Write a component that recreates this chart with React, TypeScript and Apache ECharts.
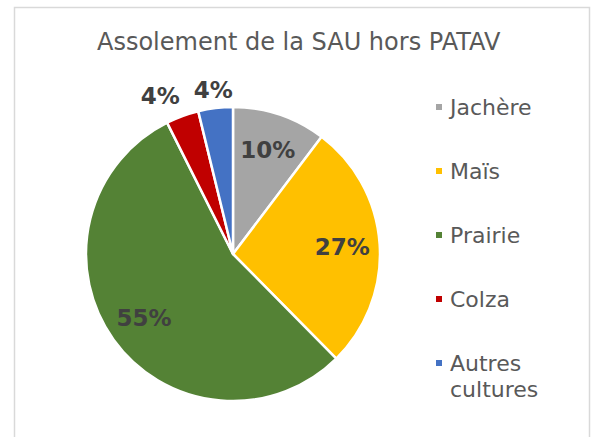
import React, { useEffect, useRef } from "react";
import * as echarts from "echarts";

const categories = ["Jachère", "Maïs", "Prairie", "Colza", "Autres cultures"];
const values = [10.3, 27.3, 55.0, 3.6, 3.8];
const colors = ["#A5A5A5", "#FFC000", "#548235", "#C00000", "#4472C4"];
const titleText = "Assolement de la SAU hors PATAV";

const CX = 233;
const CY = 254;
const R = 147;
const LABEL_FONT = 23;

export default function App() {
  const ref = useRef<HTMLDivElement>(null);
  useEffect(() => {
    if (!ref.current) return;
    const chart = echarts.init(ref.current, null, { renderer: "svg" });
    const total = values.reduce((a, b) => a + b, 0);
    const labelText = values.map((v) => Math.round((v / total) * 100) + "%");
    const widths = labelText.map((t) => (t.length === 2 ? 39 : 55));
    const heights = labelText.map(() => 17);

    const mids: number[] = [];
    let cum = 0;
    values.forEach((v) => {
      mids.push((cum + v / 2) / total);
      cum += v;
    });

    const placed: { x: number; y: number; w: number; h: number }[] = [];
    const labelPos: Record<number, { x: number; y: number }> = {};
    for (let i = values.length - 1; i >= 0; i--) {
      const ang = mids[i] * Math.PI * 2;
      const small = values[i] / total < 0.05;
      let x: number, y: number;
      if (small) {
        const ext =
          (widths[i] / 2) * Math.abs(Math.sin(ang)) + (heights[i] / 2) * Math.abs(Math.cos(ang));
        const r = R + 7 + ext;
        x = CX + r * Math.sin(ang);
        y = CY - r * Math.cos(ang);
        for (const p of placed) {
          const gap = 14;
          const overlapX =
            Math.min(x + widths[i] / 2, p.x + p.w / 2) - Math.max(x - widths[i] / 2, p.x - p.w / 2);
          const overlapY =
            Math.min(y + heights[i] / 2, p.y + p.h / 2) - Math.max(y - heights[i] / 2, p.y - p.h / 2);
          if (overlapX > -gap && overlapY > 0) {
            x -= overlapX + gap;
          }
        }
        placed.push({ x, y, w: widths[i], h: heights[i] });
      } else {
        const r = 0.745 * R;
        x = CX + r * Math.sin(ang);
        y = CY - r * Math.cos(ang);
      }
      labelPos[i] = { x, y };
    }

    const legendText = {
      fontFamily: "DejaVu Sans",
      fontSize: 22,
      color: "#595959",
      lineHeight: 26,
      padding: [0, 0, 0, 2],
    };

    chart.setOption({
      animation: false,
      title: {
        text: titleText,
        left: 97,
        top: 30,
        padding: 0,
        textStyle: {
          fontFamily: "DejaVu Sans",
          fontSize: 24,
          fontWeight: "normal",
          color: "#595959",
        },
      },
      graphic: [
        {
          type: "rect",
          shape: { x: 14.5, y: 7.5, width: 575, height: 440 },
          style: { fill: "none", stroke: "#d9d9d9", lineWidth: 1.5 },
          silent: true,
        },
      ],
      legend: [
        {
          orient: "vertical",
          left: 434,
          top: 94,
          padding: 0,
          itemWidth: 8,
          itemHeight: 8,
          itemGap: 38,
          icon: "rect",
          selectedMode: false,
          data: categories.slice(0, 4),
          textStyle: legendText,
        },
        {
          orient: "vertical",
          left: 434,
          top: 324,
          padding: 0,
          itemWidth: 8,
          itemHeight: 8,
          icon: "rect",
          selectedMode: false,
          data: categories.slice(4),
          formatter: (name: string) => " \n" + name.replace(" ", "\n"),
          textStyle: legendText,
        },
      ],
      series: [
        {
          type: "pie",
          center: [CX, CY],
          radius: [0, R],
          startAngle: 90,
          clockwise: true,
          avoidLabelOverlap: false,
          silent: true,
          itemStyle: { borderColor: "#ffffff", borderWidth: 2.5 },
          label: {
            show: true,
            position: "inside",
            formatter: (p: any) => labelText[p.dataIndex],
            fontFamily: "DejaVu Sans",
            fontWeight: "bold",
            fontSize: LABEL_FONT,
            color: "#404040",
          },
          labelLine: { show: false },
          labelLayout: (params: any) => {
            const p = labelPos[params.dataIndex];
            return { x: p.x, y: p.y, align: "center", verticalAlign: "middle" };
          },
          data: categories.map((name, i) => ({
            name,
            value: values[i],
            itemStyle: { color: colors[i] },
          })),
        },
      ],
    });
    return () => chart.dispose();
  }, []);
  return (
    <div
      ref={ref}
      style={{ position: "fixed", left: 0, top: 0, width: 595, height: 437, background: "#fff" }}
    />
  );
}
